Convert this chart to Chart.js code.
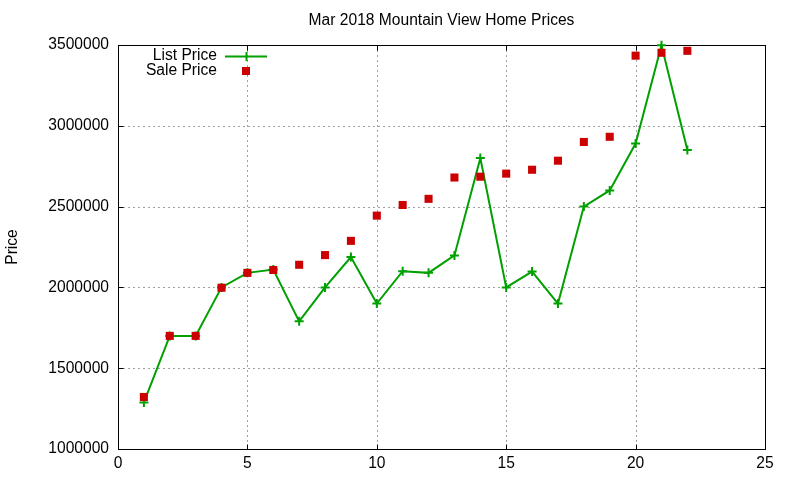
<!DOCTYPE html>
<html>
<head>
<meta charset="utf-8">
<script src="https://cdn.jsdelivr.net/npm/chart.js@4.4.1/dist/chart.umd.min.js"></script>
<style>
  html, body { margin: 0; padding: 0; background: #fff; }
  #wrap { width: 800px; height: 480px; }
</style>
</head>
<body>
<div id="wrap"><canvas id="c" width="800" height="480"></canvas></div>
<script>
const chartTitle = 'Mar 2018 Mountain View Home Prices';
const yAxisTitle = 'Price';
const seriesNames = ['List Price', 'Sale Price'];
const days = [1,2,3,4,5,6,7,8,9,10,11,12,13,14,15,16,17,18,19,20,21,22];
const listPrice = [1288000,1700000,1700000,2000000,2090000,2110000,1790000,2000000,2188000,1900000,2100000,2090000,2198000,2800000,2000000,2098000,1900000,2500000,2600000,2890000,3498000,2850000];
const salePrice = [1322000,1700000,1700000,1998000,2090000,2108000,2140000,2200000,2288000,2444000,2510000,2548000,2680000,2685000,2704000,2728000,2784000,2900000,2932000,3434000,3452000,3464000];
const xTicks = [0,5,10,15,20,25];
const yTicks = [1000000,1500000,2000000,2500000,3000000,3500000];

const GREEN = '#00a000';
const RED = '#cc0000';
const FONT = '"Liberation Sans", Arial, sans-serif';
const FSIZE = 15.6;

const listPts = days.map((d, i) => ({ x: d, y: listPrice[i] }));
const salePts = days.map((d, i) => ({ x: d, y: salePrice[i] }));

const framePlugin = {
  id: 'frame',
  beforeDatasetsDraw(chart) {
    const { ctx, chartArea: a, scales: { x, y } } = chart;
    ctx.save();
    ctx.strokeStyle = '#a0a0a0';
    ctx.lineWidth = 1;
    ctx.setLineDash([2, 3]);
    xTicks.forEach(v => {
      if (v === xTicks[0] || v === xTicks[xTicks.length - 1]) return;
      const px = Math.round(x.getPixelForValue(v)) + 0.5;
      ctx.beginPath(); ctx.moveTo(px, a.top); ctx.lineTo(px, a.bottom); ctx.stroke();
    });
    yTicks.forEach(v => {
      if (v === yTicks[0] || v === yTicks[yTicks.length - 1]) return;
      const py = Math.round(y.getPixelForValue(v)) + 0.5;
      ctx.beginPath(); ctx.moveTo(a.left, py); ctx.lineTo(a.right, py); ctx.stroke();
    });
    ctx.setLineDash([]);
    ctx.strokeStyle = '#000';
    ctx.lineWidth = 1;
    const L = Math.round(a.left) + 0.5, R = Math.round(a.right) + 0.5;
    const T = Math.round(a.top) + 0.5, B = Math.round(a.bottom) + 0.5;
    ctx.strokeRect(L, T, R - L, B - T);
    const tl = 5;
    xTicks.forEach(v => {
      const px = Math.round(x.getPixelForValue(v)) + 0.5;
      ctx.beginPath();
      ctx.moveTo(px, B); ctx.lineTo(px, B - tl);
      ctx.moveTo(px, T); ctx.lineTo(px, T + tl);
      ctx.stroke();
    });
    yTicks.forEach(v => {
      const py = Math.round(y.getPixelForValue(v)) + 0.5;
      ctx.beginPath();
      ctx.moveTo(L, py); ctx.lineTo(L + tl, py);
      ctx.moveTo(R, py); ctx.lineTo(R - tl, py);
      ctx.stroke();
    });
    ctx.restore();
  },
  afterDraw(chart) {
    const { ctx, chartArea: a } = chart;
    ctx.save();
    ctx.fillStyle = '#000';
    ctx.font = FSIZE + 'px ' + FONT;
    ctx.textBaseline = 'middle';
    // title
    ctx.textAlign = 'center';
    ctx.fillText(chartTitle, (a.left + a.right) / 2, 21);
    // y-axis title
    ctx.save();
    ctx.translate(13, (a.top + a.bottom) / 2);
    ctx.rotate(-Math.PI / 2);
    ctx.fillText(yAxisTitle, 0, 0);
    ctx.restore();
    // legend
    ctx.textAlign = 'right';
    ctx.fillText(seriesNames[0], 217, 56);
    ctx.fillText(seriesNames[1], 217, 71);
    ctx.strokeStyle = GREEN;
    ctx.lineWidth = 2;
    ctx.beginPath();
    ctx.moveTo(225, 56.5); ctx.lineTo(267, 56.5);
    ctx.moveTo(246.5, 52); ctx.lineTo(246.5, 61);
    ctx.stroke();
    ctx.fillStyle = RED;
    ctx.fillRect(242, 67, 8, 8);
    ctx.restore();
  }
};

new Chart(document.getElementById('c'), {
  type: 'scatter',
  data: {
    datasets: [
      {
        label: seriesNames[1],
        data: salePts,
        showLine: false,
        pointStyle: 'rect',
        pointRadius: 5.7,
        pointHoverRadius: 5.7,
        pointBackgroundColor: RED,
        pointBorderWidth: 0,
        borderWidth: 0,
        order: 0,
        clip: false
      },
      {
        label: seriesNames[0],
        data: listPts,
        showLine: true,
        borderColor: GREEN,
        borderWidth: 2,
        tension: 0,
        pointStyle: 'cross',
        pointRadius: 4.5,
        pointHoverRadius: 4.5,
        pointBorderColor: GREEN,
        pointBorderWidth: 2,
        order: 1,
        clip: false
      }
    ]
  },
  options: {
    responsive: false,
    animation: false,
    devicePixelRatio: 1,
    events: [],
    layout: { padding: { top: 45, right: 35, left: 0, bottom: 0 } },
    plugins: {
      legend: { display: false },
      title: { display: false },
      tooltip: { enabled: false }
    },
    scales: {
      x: {
        type: 'linear',
        min: xTicks[0],
        max: xTicks[xTicks.length - 1],
        afterFit(s) { s.height = 31; },
        afterBuildTicks(s) { s.ticks = xTicks.map(v => ({ value: v })); },
        grid: { display: false, drawTicks: false },
        border: { display: false },
        ticks: {
          color: '#000',
          font: { family: FONT, size: FSIZE },
          padding: 5,
          maxRotation: 0,
          callback: v => String(v)
        }
      },
      y: {
        type: 'linear',
        min: yTicks[0],
        max: yTicks[yTicks.length - 1],
        afterFit(s) { s.width = 118; },
        afterBuildTicks(s) { s.ticks = yTicks.map(v => ({ value: v })); },
        grid: { display: false, drawTicks: false },
        border: { display: false },
        ticks: {
          color: '#000',
          font: { family: FONT, size: FSIZE },
          padding: 9,
          callback: v => String(v)
        }
      }
    }
  },
  plugins: [framePlugin]
});
</script>
</body>
</html>
